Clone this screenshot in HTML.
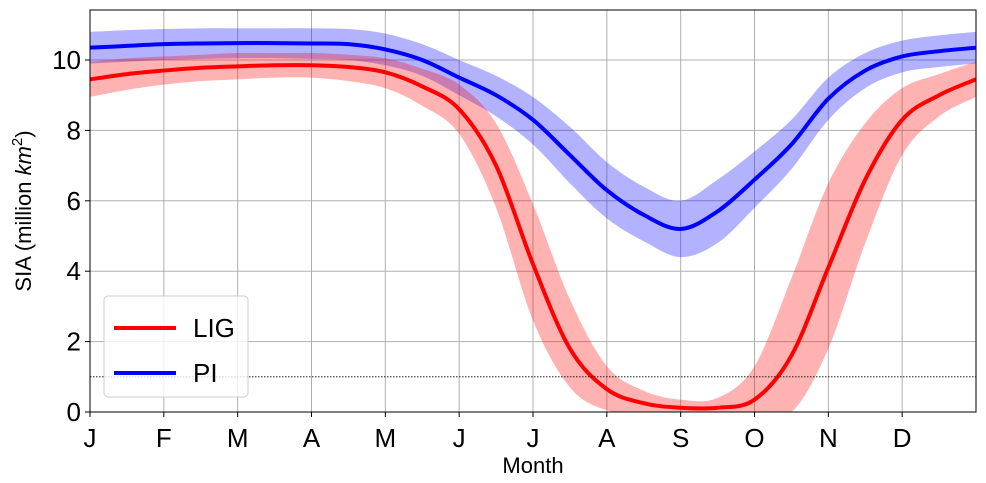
<!DOCTYPE html>
<html><head><meta charset="utf-8"><style>
body{margin:0;background:#fff}
svg{display:block;font-family:"Liberation Sans","DejaVu Sans",sans-serif}
</style></head><body>
<svg id="chart" width="986" height="483"></svg>
<script>
const months=["J","F","M","A","M","J","J","A","S","O","N","D"];
const yTicks=[0,2,4,6,8,10];
const tPos=[0,0.5,1,1.5,2,2.5,3,3.5,4,4.5,5,5.5,6,6.5,7,7.5,8,8.5,9,9.5,10,10.5,11,11.5,12];
const ligMean=[9.45,9.6,9.7,9.78,9.82,9.85,9.85,9.8,9.65,9.25,8.6,7.0,4.2,1.8,0.65,0.25,0.12,0.12,0.35,1.6,4.1,6.6,8.3,9.0,9.45];
const ligUpper=[9.95,10.05,10.1,10.15,10.2,10.2,10.2,10.15,10.05,9.75,9.3,8.2,5.9,3.2,1.3,0.6,0.35,0.4,1.3,3.8,6.5,8.2,9.2,9.6,9.95];
const ligLower=[8.95,9.15,9.3,9.4,9.45,9.5,9.5,9.4,9.2,8.7,7.9,5.8,2.6,0.7,0.05,0,0,0,0,0,1.8,4.8,7.3,8.4,8.95];
const piMean=[10.35,10.4,10.45,10.47,10.48,10.48,10.47,10.45,10.3,10.0,9.5,9.0,8.3,7.3,6.3,5.6,5.2,5.7,6.6,7.6,8.9,9.7,10.1,10.25,10.35];
const piUpper=[10.8,10.85,10.88,10.9,10.9,10.9,10.9,10.88,10.75,10.45,10.0,9.55,8.95,8.1,7.1,6.4,6.0,6.6,7.4,8.3,9.5,10.2,10.55,10.7,10.8];
const piLower=[9.9,9.95,10.0,10.03,10.05,10.05,10.03,10.0,9.85,9.55,9.0,8.4,7.6,6.5,5.5,4.85,4.4,4.8,5.8,6.9,8.3,9.2,9.65,9.8,9.9];

const NS="http://www.w3.org/2000/svg";
const svg=document.getElementById('chart');
const L=90,R=976,T=10,B=412;
const xS=m=>L+(R-L)*m/12;
const yS=v=>B-v*35.2;
function mk(tag,attrs,parent){const e=document.createElementNS(NS,tag);for(const k in attrs)e.setAttribute(k,attrs[k]);(parent||svg).appendChild(e);return e;}
function curve(xs,ys){let pts=xs.map((x,i)=>[xS(x),yS(ys[i])]);let d="M"+pts[0][0]+","+pts[0][1];
 for(let i=0;i<pts.length-1;i++){const p0=pts[Math.max(i-1,0)],p1=pts[i],p2=pts[i+1],p3=pts[Math.min(i+2,pts.length-1)];
 d+=" C"+(p1[0]+(p2[0]-p0[0])/6)+","+(p1[1]+(p2[1]-p0[1])/6)+" "+(p2[0]-(p3[0]-p1[0])/6)+","+(p2[1]-(p3[1]-p1[1])/6)+" "+p2[0]+","+p2[1];}
 return d;}
function band(xs,up,lo){const a=curve(xs,up);const rx=xs.slice().reverse(),rl=lo.slice().reverse();return a+" L"+curve(rx,rl).slice(1)+" Z";}

const clip=mk('clipPath',{id:'pc'});mk('rect',{x:L,y:T,width:R-L,height:B-T},clip);
months.forEach((m,i)=>{const g=mk('line',{x1:xS(i),x2:xS(i),y1:T,y2:B,stroke:'#b0b0b0','stroke-width':1});
});
yTicks.forEach(v=>{const g=mk('line',{x1:L,x2:R,y1:yS(v),y2:yS(v),stroke:'#b0b0b0','stroke-width':1});
});
const gp=mk('g',{'clip-path':'url(#pc)'});
let e;
e=mk('path',{d:band(tPos,piUpper,piLower),fill:'#0000ff','fill-opacity':0.3},gp);

e=mk('path',{d:band(tPos,ligUpper,ligLower),fill:'#ff0000','fill-opacity':0.3},gp);

e=mk('line',{x1:L,x2:R,y1:yS(1),y2:yS(1),stroke:'#000','stroke-width':0.8,'stroke-dasharray':'1.5,1.5'});

e=mk('line',{x1:L,x2:R,y1:yS(0),y2:yS(0),stroke:'#000','stroke-width':0.8,'stroke-dasharray':'1.5,1.5'});

e=mk('path',{d:curve(tPos,piMean),fill:'none',stroke:'#0000ff','stroke-width':4},gp);

e=mk('path',{d:curve(tPos,ligMean),fill:'none',stroke:'#ff0000','stroke-width':4},gp);

e=mk('rect',{x:L,y:T,width:R-L,height:B-T,fill:'none',stroke:'#000','stroke-width':1});

months.forEach((m,i)=>{mk('line',{x1:xS(i),x2:xS(i),y1:B,y2:B+5,stroke:'#000'});
const t=mk('text',{x:xS(i),y:B+35,'text-anchor':'middle','font-size':26});t.textContent=m;
});
yTicks.forEach(v=>{mk('line',{x1:L-5,x2:L,y1:yS(v),y2:yS(v),stroke:'#000'});
const t=mk('text',{x:L-9,y:yS(v)+9,'text-anchor':'end','font-size':26});t.textContent=v;
});
e=mk('text',{x:533,y:473,'text-anchor':'middle','font-size':22});e.textContent='Month';

e=mk('text',{transform:'translate(31,211) rotate(-90)','text-anchor':'middle','font-size':22});
e.innerHTML='SIA (million <tspan font-style="italic">km</tspan><tspan font-size="15" dy="-9">2</tspan><tspan dy="9">)</tspan>';

const lg=mk('g',{});
mk('rect',{x:104,y:296,width:144,height:101,rx:4,fill:'#fff','fill-opacity':0.8,stroke:'#ccc'},lg);
[["LIG","#ff0000",328],["PI","#0000ff",373]].forEach(([n,c,y])=>{
const ln=mk('line',{x1:114,x2:176,y1:y,y2:y,stroke:c,'stroke-width':4},lg);

const t=mk('text',{x:193,y:y+9,'font-size':26},lg);t.textContent=n;
});
</script>
</body></html>
